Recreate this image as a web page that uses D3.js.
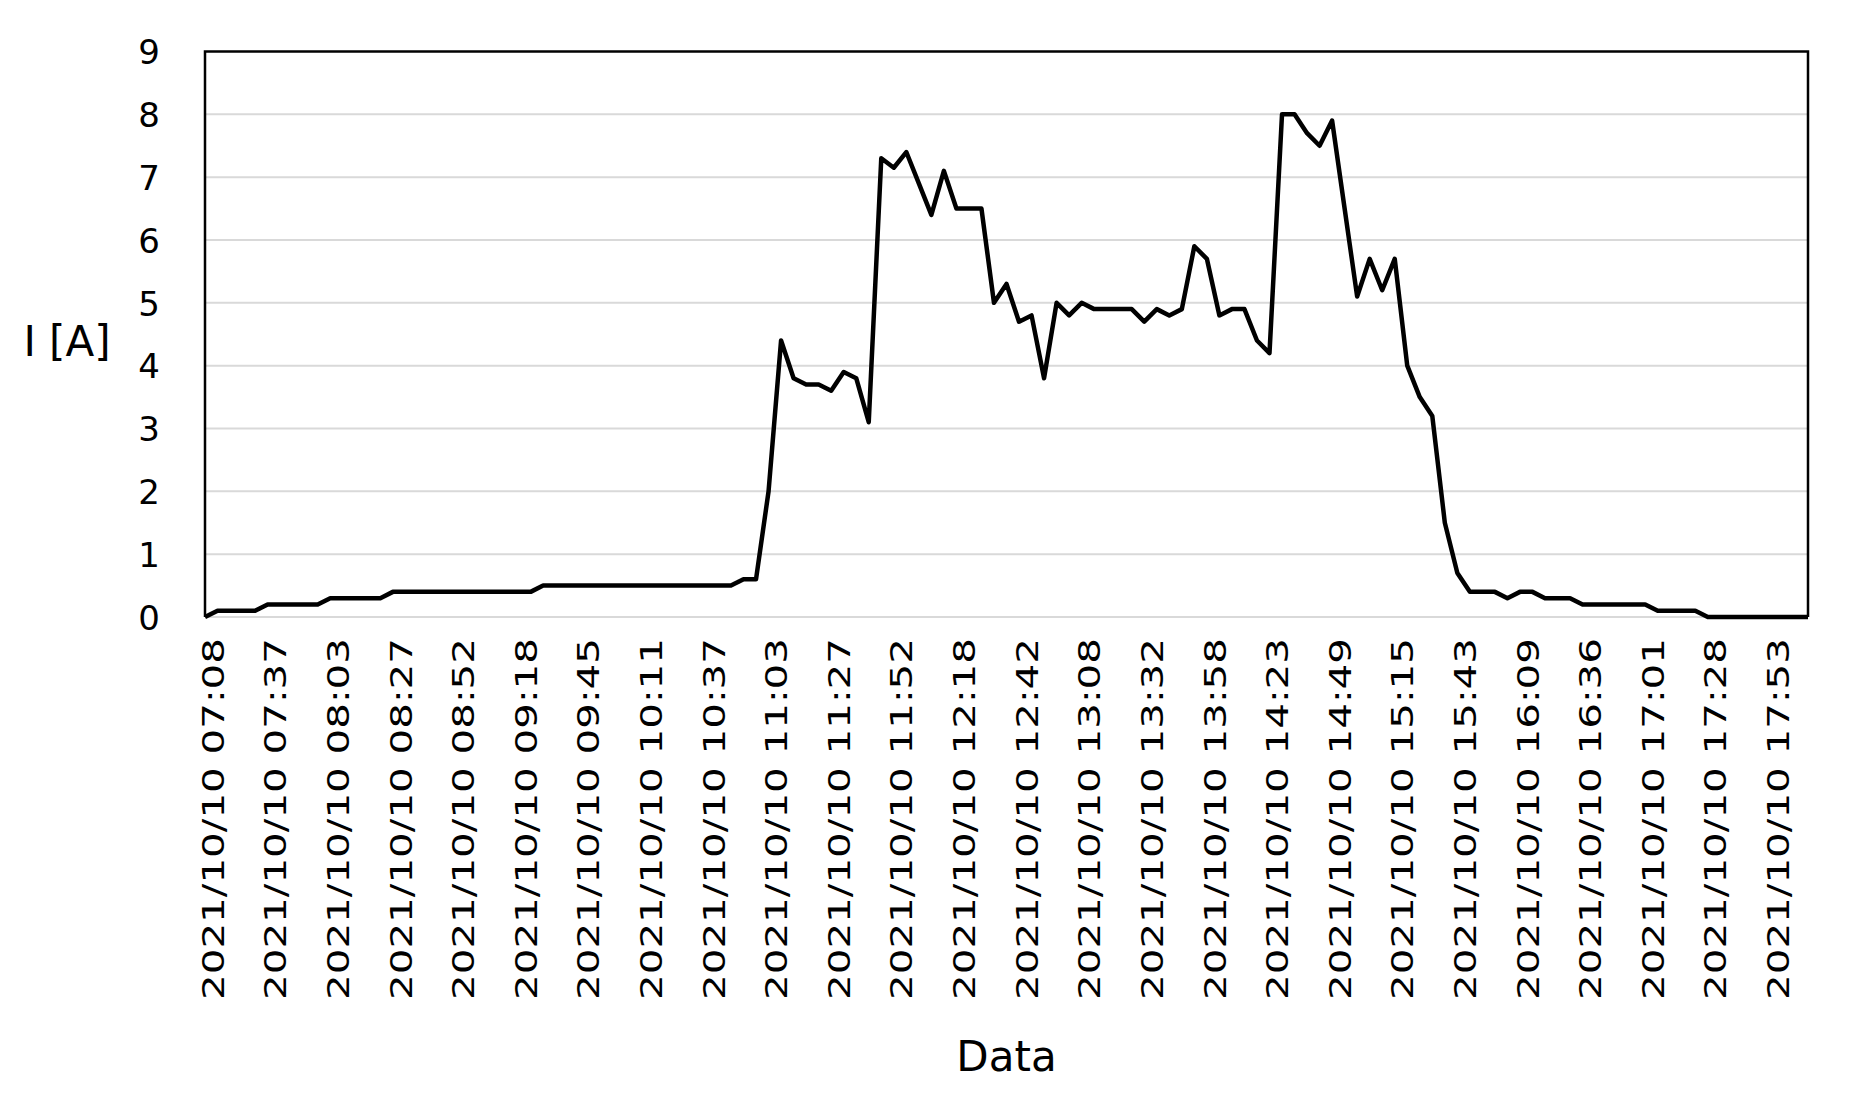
<!DOCTYPE html>
<html>
<head>
<meta charset="utf-8">
<script src="https://cdn.jsdelivr.net/npm/d3@7"></script>
<style>
  html, body { margin: 0; padding: 0; background: #ffffff; }
  svg { display: block; }
</style>
</head>
<body>
<svg id="chart" width="1849" height="1098"></svg>
<script>
// ---- data ----
const tickLabels = [
  "2021/10/10 07:08", "2021/10/10 07:37", "2021/10/10 08:03", "2021/10/10 08:27",
  "2021/10/10 08:52", "2021/10/10 09:18", "2021/10/10 09:45", "2021/10/10 10:11",
  "2021/10/10 10:37", "2021/10/10 11:03", "2021/10/10 11:27", "2021/10/10 11:52",
  "2021/10/10 12:18", "2021/10/10 12:42", "2021/10/10 13:08", "2021/10/10 13:32",
  "2021/10/10 13:58", "2021/10/10 14:23", "2021/10/10 14:49", "2021/10/10 15:15",
  "2021/10/10 15:43", "2021/10/10 16:09", "2021/10/10 16:36", "2021/10/10 17:01",
  "2021/10/10 17:28", "2021/10/10 17:53"
];
const labelEvery = 5; // one label every 5 samples
const current = [
  0, 0.1, 0.1, 0.1, 0.1, 0.2, 0.2, 0.2, 0.2, 0.2,
  0.3, 0.3, 0.3, 0.3, 0.3, 0.4, 0.4, 0.4, 0.4, 0.4,
  0.4, 0.4, 0.4, 0.4, 0.4, 0.4, 0.4, 0.5, 0.5, 0.5,
  0.5, 0.5, 0.5, 0.5, 0.5, 0.5, 0.5, 0.5, 0.5, 0.5,
  0.5, 0.5, 0.5, 0.6, 0.6, 2.0, 4.4, 3.8, 3.7, 3.7,
  3.6, 3.9, 3.8, 3.1, 7.3, 7.15, 7.4, 6.9, 6.4, 7.1,
  6.5, 6.5, 6.5, 5.0, 5.3, 4.7, 4.8, 3.8, 5.0, 4.8,
  5.0, 4.9, 4.9, 4.9, 4.9, 4.7, 4.9, 4.8, 4.9, 5.9,
  5.7, 4.8, 4.9, 4.9, 4.4, 4.2, 8.0, 8.0, 7.7, 7.5,
  7.9, 6.5, 5.1, 5.7, 5.2, 5.7, 4.0, 3.5, 3.2, 1.5,
  0.7, 0.4, 0.4, 0.4, 0.3, 0.4, 0.4, 0.3, 0.3, 0.3,
  0.2, 0.2, 0.2, 0.2, 0.2, 0.2, 0.1, 0.1, 0.1, 0.1,
  0, 0, 0, 0, 0, 0, 0, 0, 0
];
const yTicks = [0, 1, 2, 3, 4, 5, 6, 7, 8, 9];
const yTitle = "I [A]";
const xTitle = "Data";

// ---- layout ----
const plotLeft = 205, plotRight = 1808, plotTop = 51.5, plotBottom = 617;
const svg = d3.select("#chart");
const font = "'DejaVu Sans', Verdana, sans-serif";

const x = d3.scaleLinear().domain([0, current.length - 1]).range([plotLeft, plotRight]);
const y = d3.scaleLinear().domain([0, 9]).range([plotBottom, plotTop]);

// gridlines
svg.append("g").selectAll("line")
  .data(yTicks.filter(d => d < 9))
  .join("line")
  .attr("x1", plotLeft).attr("x2", plotRight)
  .attr("y1", d => y(d)).attr("y2", d => y(d))
  .attr("stroke", "#d9d9d9").attr("stroke-width", 2);

// plot border (left, top, right)
svg.append("path")
  .attr("d", `M${plotLeft},${y(0)}V${y(9)}H${plotRight}V${y(0)}`)
  .attr("fill", "none").attr("stroke", "#000").attr("stroke-width", 2.5);

// data line
const line = d3.line().x((d, i) => x(i)).y(d => y(d));
svg.append("path")
  .datum(current)
  .attr("d", line)
  .attr("fill", "none")
  .attr("stroke", "#000")
  .attr("stroke-width", 4.5)
  .attr("stroke-linejoin", "round");

// y axis labels
const yAxis = d3.axisLeft(y).tickValues(yTicks).tickFormat(d3.format("d")).tickSize(0).tickPadding(0);
const gy = svg.append("g").attr("transform", "translate(160,0)").call(yAxis);
gy.select(".domain").remove();
gy.selectAll("text")
  .attr("font-family", font).attr("font-size", 34).attr("fill", "#000")
  .attr("dy", "0.36em");

// x axis labels
const tickIdx = tickLabels.map((d, i) => i * labelEvery);
const xAxis = d3.axisBottom(x).tickValues(tickIdx)
  .tickFormat((d, i) => tickLabels[i]).tickSize(0);
const gx = svg.append("g").attr("transform", `translate(0,${plotBottom})`).call(xAxis);
gx.select(".domain").remove();
gx.selectAll("text")
  .attr("font-family", font).attr("font-size", 31).attr("fill", "#000")
  .attr("text-anchor", "end")
  .attr("transform", "rotate(-90)")
  .attr("x", -21).attr("y", 7).attr("dy", "0.36em")
  .attr("textLength", 362).attr("lengthAdjust", "spacingAndGlyphs");

// axis titles
svg.append("text")
  .attr("x", 67).attr("y", 356)
  .attr("text-anchor", "middle")
  .attr("font-family", font).attr("font-size", 42).attr("fill", "#000")
  .text(yTitle);
svg.append("text")
  .attr("x", (plotLeft + plotRight) / 2).attr("y", 1071)
  .attr("text-anchor", "middle")
  .attr("font-family", font).attr("font-size", 42).attr("fill", "#000")
  .text(xTitle);
</script>
</body>
</html>
